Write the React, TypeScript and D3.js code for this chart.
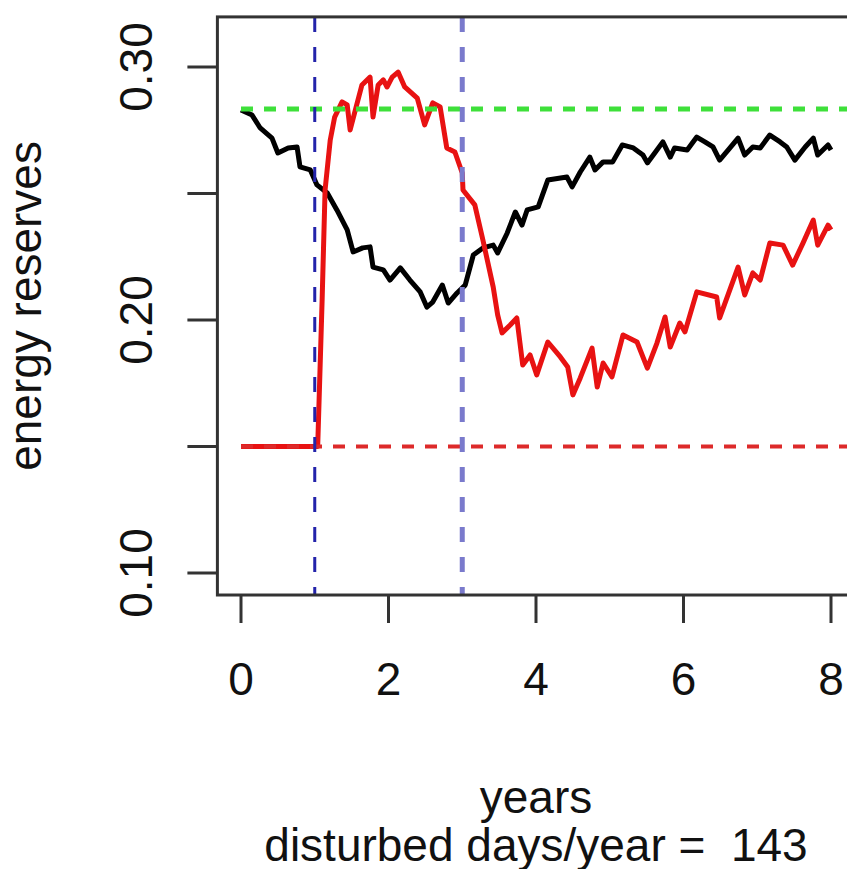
import React from 'react';
import * as d3 from 'd3';

// years / energy reserves
const blackYears = [0, 0.15, 0.26, 0.42, 0.5, 0.64, 0.76, 0.8, 0.94, 1.03, 1.17, 1.3, 1.44, 1.52, 1.65, 1.75, 1.79, 1.93, 2.02, 2.16, 2.29, 2.43, 2.52, 2.6, 2.73, 2.81, 2.93, 3.04, 3.15, 3.28, 3.42, 3.48, 3.61, 3.72, 3.81, 3.88, 4.03, 4.16, 4.42, 4.49, 4.6, 4.73, 4.8, 4.91, 5.04, 5.17, 5.32, 5.45, 5.51, 5.61, 5.72, 5.82, 5.88, 6.05, 6.18, 6.29, 6.4, 6.49, 6.63, 6.74, 6.83, 6.94, 7.04, 7.17, 7.31, 7.4, 7.51, 7.65, 7.76, 7.82, 7.96, 8.0];
const blackValues = [0.283, 0.281, 0.2759, 0.2719, 0.266, 0.268, 0.2684, 0.2605, 0.2593, 0.2534, 0.2502, 0.2435, 0.2356, 0.2269, 0.2285, 0.2289, 0.2209, 0.2198, 0.2158, 0.2206, 0.2158, 0.2111, 0.2051, 0.2071, 0.2138, 0.2067, 0.2107, 0.2138, 0.2257, 0.2285, 0.2296, 0.2265, 0.2344, 0.2427, 0.2375, 0.2435, 0.2447, 0.2553, 0.2565, 0.2526, 0.2585, 0.2644, 0.2593, 0.2625, 0.2625, 0.2692, 0.268, 0.2652, 0.2621, 0.266, 0.2704, 0.2644, 0.268, 0.2672, 0.2723, 0.2704, 0.2684, 0.2632, 0.268, 0.2719, 0.2652, 0.2684, 0.268, 0.2731, 0.2704, 0.2684, 0.2632, 0.2684, 0.2719, 0.2652, 0.2692, 0.2672];

const redYears = [0, 1.0, 1.04, 1.1, 1.14, 1.21, 1.27, 1.37, 1.44, 1.48, 1.55, 1.64, 1.75, 1.79, 1.86, 1.93, 1.98, 2.05, 2.13, 2.22, 2.39, 2.49, 2.6, 2.7, 2.79, 2.9, 3.0, 3.01, 3.17, 3.28, 3.42, 3.48, 3.54, 3.65, 3.74, 3.82, 3.92, 4.01, 4.16, 4.33, 4.43, 4.5, 4.6, 4.76, 4.83, 4.91, 5.03, 5.18, 5.37, 5.51, 5.64, 5.75, 5.82, 5.95, 6.02, 6.18, 6.45, 6.49, 6.74, 6.83, 6.94, 7.04, 7.17, 7.35, 7.48, 7.62, 7.76, 7.82, 7.96, 8.0];
const redValues = [0.15, 0.15, 0.15, 0.2079, 0.2514, 0.2711, 0.2802, 0.2862, 0.285, 0.2751, 0.283, 0.2929, 0.296, 0.2802, 0.2929, 0.2949, 0.2921, 0.296, 0.298, 0.2921, 0.2877, 0.2771, 0.2858, 0.2842, 0.268, 0.2664, 0.2581, 0.2514, 0.2455, 0.2316, 0.213, 0.202, 0.1949, 0.198, 0.2008, 0.1822, 0.1862, 0.1783, 0.1913, 0.1854, 0.1814, 0.1704, 0.1771, 0.1889, 0.1735, 0.183, 0.1775, 0.1941, 0.1913, 0.181, 0.1909, 0.2012, 0.1893, 0.1988, 0.1953, 0.2111, 0.2091, 0.2008, 0.2209, 0.2099, 0.2186, 0.2158, 0.2304, 0.2296, 0.2217, 0.2304, 0.2395, 0.2296, 0.2375, 0.2356];

const xTicks = [0, 2, 4, 6, 8];
const yTicks = [0.1, 0.15, 0.2, 0.25, 0.3];
const yTickLabels = ['0.10', '', '0.20', '', '0.30'];
const greenLevel = 0.2834;
const redLevel = 0.15;
const disturbStart = 1;
const disturbEnd = 3;
const daysPerYear = 143;

export default function App() {
  const width = 847;
  const height = 869;
  const font = '"Liberation Sans", Arial, sans-serif';

  const x = d3.scaleLinear().domain([0, 8]).range([241, 831]);
  const y = d3.scaleLinear().domain([0.1, 0.3]).range([573, 67]);
  const xlim = [-0.32, 8.32];
  const ylim = [0.0913, 0.3198];

  const left = x(xlim[0]);
  const right = x(xlim[1]);
  const top = y(ylim[1]);
  const bottom = y(ylim[0]);

  const line = d3.line<[number, number]>()
    .x(d => x(d[0]))
    .y(d => y(d[1]));

  const black = blackYears.map((t, i) => [t, blackValues[i]] as [number, number]);
  const red = redYears.map((t, i) => [t, redValues[i]] as [number, number]);

  return (
    <svg width={width} height={height} style={{ position: 'absolute', left: 0, top: 0, background: '#fff' }} fontFamily={font}>
      <defs>
        <clipPath id="plotArea">
          <rect x={left} y={top} width={right - left} height={bottom - top} />
        </clipPath>
      </defs>

      <g clipPath="url(#plotArea)">
        <path d={line(black) || ''} fill="none" stroke="#000" strokeWidth={5} strokeLinejoin="round" />
        <path d={line(red) || ''} fill="none" stroke="#e81212" strokeWidth={5} strokeLinejoin="round" />

        <line x1={x(0)} x2={right} y1={y(greenLevel)} y2={y(greenLevel)} stroke="#3ee03a" strokeWidth={5} strokeDasharray="12 11" />
        <line x1={x(0)} x2={right} y1={y(redLevel)} y2={y(redLevel)} stroke="#dd2a2a" strokeWidth={4} strokeDasharray="12 11" />

        <line x1={x(disturbStart)} x2={x(disturbStart)} y1={top} y2={bottom} stroke="#2323aa" strokeWidth={3} strokeDasharray="15 15" />
        <line x1={x(disturbEnd)} x2={x(disturbEnd)} y1={top} y2={bottom} stroke="#7a7acc" strokeWidth={5} strokeDasharray="15 15" />
      </g>

      <rect x={left} y={top} width={right - left} height={bottom - top} fill="none" stroke="#333" strokeWidth={3} />

      {yTicks.map((t, i) => (
        <g key={t}>
          <line x1={left - 30} x2={left} y1={y(t)} y2={y(t)} stroke="#333" strokeWidth={3} />
          {yTickLabels[i] && (
            <text transform={`translate(152, ${y(t)}) rotate(-90)`} textAnchor="middle" fontSize={46} fill="#111">
              {yTickLabels[i]}
            </text>
          )}
        </g>
      ))}

      {xTicks.map(t => (
        <g key={t}>
          <line x1={x(t)} x2={x(t)} y1={bottom} y2={bottom + 28} stroke="#333" strokeWidth={3} />
          <text x={x(t)} y={695} textAnchor="middle" fontSize={46} fill="#111">{t}</text>
        </g>
      ))}

      <text transform={`translate(41, ${(top + bottom) / 2}) rotate(-90)`} textAnchor="middle" fontSize={46} fill="#111">
        energy reserves
      </text>
      <text x={(left + right) / 2} y={813} textAnchor="middle" fontSize={46} fill="#111">years</text>
      <text x={(left + right) / 2} y={861} textAnchor="middle" fontSize={46} fill="#111" style={{ whiteSpace: 'pre' }}>
        {`disturbed days/year =  ${daysPerYear}`}
      </text>
    </svg>
  );
}
